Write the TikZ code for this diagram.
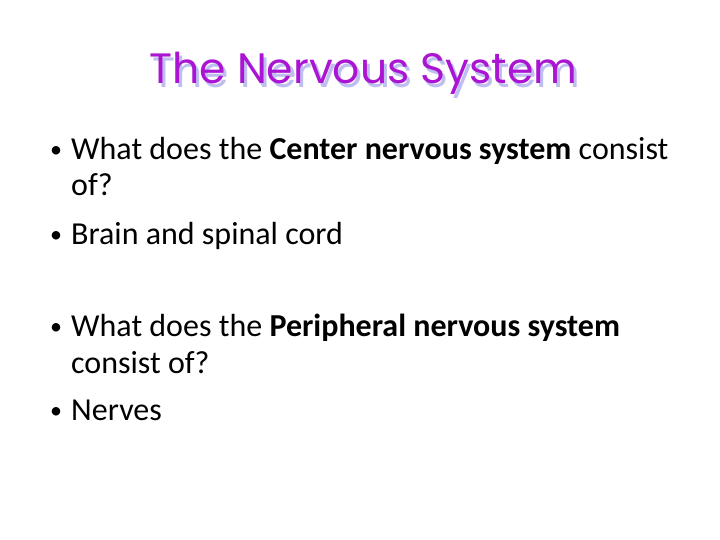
\documentclass[tikz,border=0pt]{standalone}
\usepackage{fontspec}
\setmainfont{Carlito}
\newfontfamily\titlefont{Poppins}
\usepackage{graphicx}
\definecolor{tpurple}{RGB}{170,20,210}
\definecolor{tshadow}{RGB}{190,190,240}
\newcommand{\ttltxt}{The Nervous System}
\begin{document}
\begin{tikzpicture}[x=1pt,y=-1pt,
  line/.style={anchor=base west,inner sep=0pt,font=\fontsize{32}{36}\selectfont},
  bul/.style={anchor=base west,inner sep=0pt,font=\fontsize{24}{28}\selectfont},
  title/.style={anchor=base west,inner sep=0pt}]
\useasboundingbox[fill=white] (0,0) rectangle (720,540);
\node[title] (t) at (149,84) {\resizebox{428pt}{!}{\titlefont\fontsize{40}{44}\selectfont
  \rlap{\raisebox{-3pt}{\kern3pt\textcolor{tshadow}{\ttltxt}}}\textcolor{tpurple}{\ttltxt}}};
\node[bul] (b1) at (50,158) {•};
\node[line] (l1) at (71,160) {What does the \textbf{Center nervous system} consist};
\node[line] (l1b) at (71,196) {of?};
\node[bul] (b2) at (50,242) {•};
\node[line] (l2) at (71,244) {Brain and spinal cord};
\node[bul] (b3) at (50,334) {•};
\node[line] (l3) at (71,336) {What does the \textbf{Peripheral nervous system}};
\node[line] (l3b) at (71,373) {consist of?};
\node[bul] (b4) at (50,418) {•};
\node[line] (l4) at (71,420) {Nerves};
\end{tikzpicture}
\end{document}
